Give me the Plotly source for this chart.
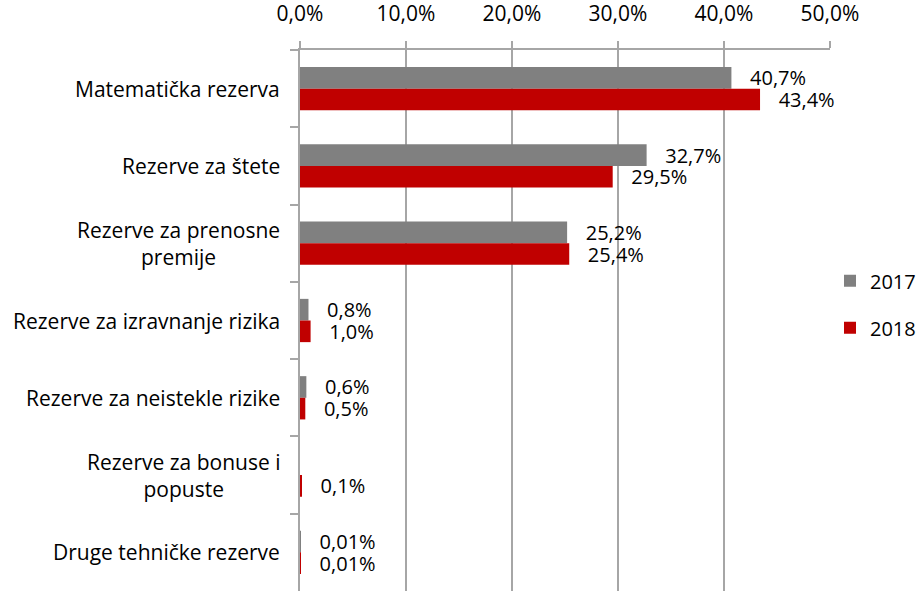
import plotly.graph_objects as go


# ==========================================================
# DATA
# ==========================================================

categories = [
    "Matematička rezerva",
    "Rezerve za štete",
    "Rezerve za prenosne<br>premije",
    "Rezerve za izravnanje rizika",
    "Rezerve za neistekle rizike",
    "Rezerve za bonuse i<br>popuste",
    "Druge tehničke rezerve",
]

values_2017 = [40.7, 32.7, 25.2, 0.8, 0.6, 0.0, 0.01]
values_2018 = [43.4, 29.5, 25.4, 1.0, 0.5, 0.1, 0.01]

labels_2017 = ["40,7%", "32,7%", "25,2%", "0,8%", "0,6%", "", "0,01%"]
labels_2018 = ["43,4%", "29,5%", "25,4%", "1,0%", "0,5%", "0,1%", "0,01%"]

x_ticks = [0, 10, 20, 30, 40, 50]


# ==========================================================
# THEME
# ==========================================================

GRAY = "#808080"
RED = "#C00000"
GRID = "#A6A6A6"
TEXT = "#000000"
FONT = "Open Sans, sans-serif"
PAD = "\u00a0\u00a0\u00a0"


fig = go.Figure()

for name, vals, labels, color in [
    ("2017", values_2017, labels_2017, GRAY),
    ("2018", values_2018, labels_2018, RED),
]:
    fig.add_trace(
        go.Bar(
            name=name,
            y=categories,
            x=vals,
            orientation="h",
            marker=dict(color=color, line_width=0),
            text=[PAD + t if t else "" for t in labels],
            textposition="outside",
            constraintext="none",
            cliponaxis=False,
            textfont=dict(size=20, color=TEXT, family=FONT),
            legendgroup=name,
            hoverinfo="skip",
        )
    )

# category labels, centred like the original
for cat in categories:
    fig.add_annotation(
        x=0,
        xref="paper",
        xanchor="right",
        xshift=-18,
        y=cat,
        yref="y",
        text=cat,
        showarrow=False,
        align="center",
        font=dict(size=21, color=TEXT, family=FONT),
    )

fig.update_layout(
    width=921,
    height=591,
    paper_bgcolor="white",
    plot_bgcolor="white",
    separators=", ",
    barmode="group",
    bargap=0.44,
    bargroupgap=0,
    font=dict(family=FONT, size=20, color=TEXT),
    margin=dict(l=300, r=88, t=50, b=0),
    showlegend=True,
    legend=dict(
        x=1.0,
        xanchor="left",
        y=0.53,
        yanchor="middle",
        traceorder="grouped",
        tracegroupgap=18,
        font=dict(size=20, color=TEXT, family=FONT),
        itemwidth=30,
    ),
)

fig.update_xaxes(
    side="top",
    range=[0, 50],
    tickvals=x_ticks,
    ticktext=[f"{v:.1f}%".replace(".", ",") for v in x_ticks],
    showgrid=True,
    gridcolor=GRID,
    gridwidth=2,
    showline=True,
    linecolor=GRID,
    linewidth=2,
    ticks="outside",
    ticklen=7,
    tickwidth=2,
    tickcolor=GRID,
    ticklabelstandoff=12,
    zeroline=False,
    tickfont=dict(size=21, color=TEXT, family=FONT),
    fixedrange=True,
)

fig.update_yaxes(
    autorange="reversed",
    showticklabels=False,
    showline=True,
    linecolor=GRID,
    linewidth=2,
    ticks="outside",
    tickson="boundaries",
    ticklen=8,
    tickwidth=2,
    tickcolor=GRID,
    showgrid=False,
    fixedrange=True,
)

# drop the default page margin so the figure fills the window
fig.write_html(
    "out.html",
    config={"displayModeBar": False},
    post_script="document.body.style.margin='0';",
)
